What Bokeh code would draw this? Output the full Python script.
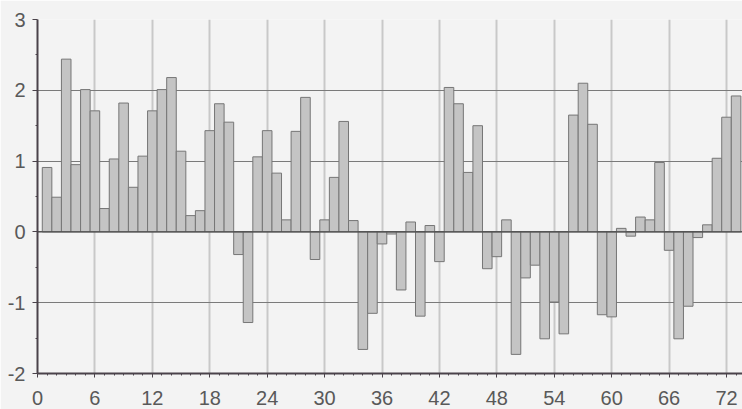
from bokeh.plotting import figure
from bokeh.models import Range1d, FixedTicker, PrintfTickFormatter
from bokeh.embed import file_html
from bokeh.resources import INLINE

# Period index (1..73) and the value recorded for each period
periods = list(range(1, 74))
values = [
    0.91, 0.49, 2.44, 0.95, 2.01, 1.71, 0.33, 1.03, 1.82, 0.63,
    1.07, 1.71, 2.01, 2.18, 1.14, 0.23, 0.30, 1.43, 1.81, 1.55,
    -0.32, -1.28, 1.06, 1.43, 0.83, 0.17, 1.42, 1.90, -0.39, 0.17,
    0.77, 1.56, 0.16, -1.66, -1.15, -0.17, -0.03, -0.82, 0.14, -1.19,
    0.09, -0.42, 2.04, 1.81, 0.84, 1.50, -0.52, -0.35, 0.17, -1.73,
    -0.65, -0.47, -1.51, -0.99, -1.44, 1.65, 2.10, 1.52, -1.17, -1.20,
    0.05, -0.06, 0.21, 0.17, 0.98, -0.26, -1.51, -1.05, -0.08, 0.10,
    1.04, 1.62, 1.92,
]
x_ticks = [0, 6, 12, 18, 24, 30, 36, 42, 48, 54, 60, 66, 72]
y_ticks = [-2, -1, 0, 1, 2, 3]

bg = "#f3f3f3"
axis_col = "#4a424a"
label_col = "#595959"

p = figure(
    width=742, height=409,
    output_backend="svg", toolbar_location=None,
    x_range=Range1d(0, 73.67), y_range=Range1d(-2, 3),
    min_border_left=37, min_border_right=0,
    min_border_top=19, min_border_bottom=36,
    background_fill_color=bg, border_fill_color=bg,
    outline_line_color=None,
)

# Bars
p.vbar(x=periods, top=values, bottom=0, width=1.0,
       fill_color="#c4c4c4", line_color="#767676", line_width=1)

# Zero line
p.line(x=[0, 73.67], y=[0, 0], line_color="#4a4a4a", line_width=1.2)

# Grid
p.xgrid.ticker = FixedTicker(ticks=x_ticks)
p.xgrid.grid_line_color = "#c8c8c8"
p.xgrid.grid_line_width = 2
p.ygrid.ticker = FixedTicker(ticks=y_ticks)
p.ygrid.grid_line_color = "#7a7a7a"
p.ygrid.grid_line_width = 1
p.grid.level = "underlay"

# X axis
p.xaxis.ticker = FixedTicker(ticks=x_ticks, minor_ticks=list(range(0, 74)))
p.xaxis.formatter = PrintfTickFormatter(format="%d")
p.xaxis.axis_line_color = axis_col
p.xaxis.axis_line_width = 2
p.xaxis.major_tick_line_color = axis_col
p.xaxis.major_tick_out = 4
p.xaxis.major_tick_in = 0
p.xaxis.minor_tick_line_color = axis_col
p.xaxis.minor_tick_out = 2
p.xaxis.minor_tick_in = 0
p.xaxis.major_label_text_font = "Liberation Sans"
p.xaxis.major_label_text_font_size = "20px"
p.xaxis.major_label_text_color = label_col
p.xaxis.major_label_standoff = 13

# Y axis
p.yaxis.ticker = FixedTicker(ticks=y_ticks, minor_ticks=[-1.5, -0.5, 0.5, 1.5, 2.5])
p.yaxis.formatter = PrintfTickFormatter(format="%d")
p.yaxis.axis_line_color = axis_col
p.yaxis.axis_line_width = 2
p.yaxis.major_tick_line_color = axis_col
p.yaxis.major_tick_out = 5
p.yaxis.major_tick_in = 0
p.yaxis.minor_tick_line_color = axis_col
p.yaxis.minor_tick_out = 2
p.yaxis.minor_tick_in = 0
p.yaxis.major_label_text_font = "Liberation Sans"
p.yaxis.major_label_text_font_size = "20px"
p.yaxis.major_label_text_color = label_col
p.yaxis.major_label_standoff = 7

open("out.html", "w").write(file_html(p, INLINE))
